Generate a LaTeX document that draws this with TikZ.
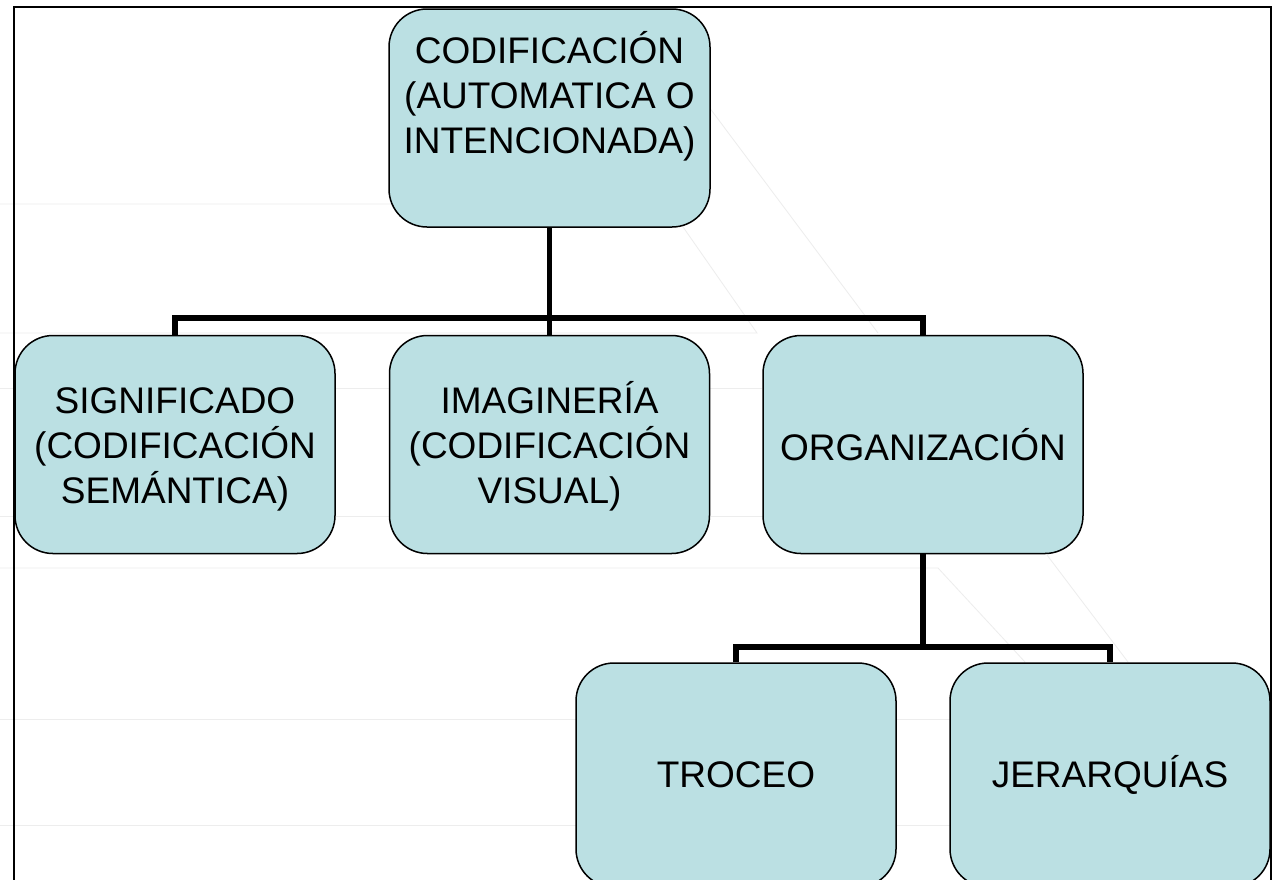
\documentclass[tikz,border=0pt]{standalone}
\usepackage{fontspec}
\setmainfont{Liberation Sans}
\definecolor{boxfill}{HTML}{BBE0E3}
\begin{document}
\begin{tikzpicture}[x=1pt,y=-1pt,
  box/.style={draw=black, line width=1.5pt, fill=boxfill, rounded corners=38pt,
    minimum width=320pt, minimum height=218pt, align=center, inner sep=2pt,
    font=\fontsize{37}{45}\selectfont},
  conn/.style={draw=black, line width=5.5pt, line join=miter},
  bg/.style={draw=black!7, line width=0.8pt}]
\clip (0,0) rectangle (1276,879);
\fill[white] (0,0) rectangle (1276,879);
% faint background pattern
\draw[bg] (0,204) -- (667,204) -- (757,333) -- (0,333);
\draw[bg] (700,95) -- (878,333);
\draw[bg] (0,388) -- (762,388);
\draw[bg] (0,516) -- (763,516);
\draw[bg] (0,568) -- (938,568) -- (1025,662);
\draw[bg] (1047,555) -- (1128,662);
\draw[bg] (0,719) -- (950,719);
\draw[bg] (0,825) -- (950,825);
% frame
\draw[line width=2pt] (14,7) rectangle (1271,900);
% boxes
\node[box, minimum width=321pt, text height=123pt, text depth=53pt] (cod) at (549.5,118) {CODIFICACIÓN\\(AUTOMATICA O\\INTENCIONADA)};
\node[box, text height=123pt, text depth=6pt] (sig) at (175,444.5) {SIGNIFICADO\\(CODIFICACIÓN\\SEMÁNTICA)};
\node[box, text height=123pt, text depth=6pt] (img) at (549.5,444.5) {IMAGINERÍA\\(CODIFICACIÓN\\VISUAL)};
\node[box] (org) at (923,444.5) {ORGANIZACIÓN};
\node[box, minimum height=224pt] (tro) at (736,775) {TROCEO};
\node[box, minimum height=224pt] (jer) at (1110,775) {JERARQUÍAS};
% connectors
\coordinate (busA) at (549.5,318);
\coordinate (busB) at (923,647);
\draw[conn] (cod.south) -- (img.north);
\draw[conn] (sig.north) -- (sig.north |- busA) -- (org.north |- busA) -- (org.north);
\draw[conn] (org.south) -- (busB);
\draw[conn] (tro.north) -- (tro.north |- busB) -- (jer.north |- busB) -- (jer.north);
\end{tikzpicture}
\end{document}
